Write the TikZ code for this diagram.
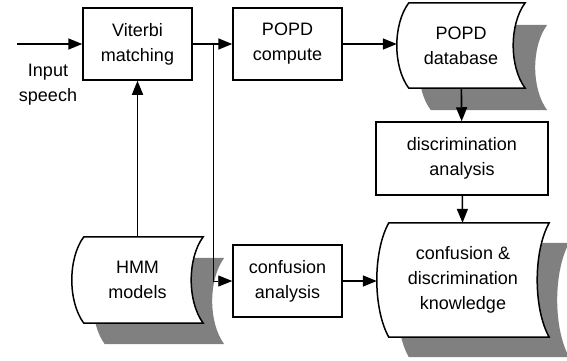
\documentclass[tikz,border=0pt]{standalone}
\usepackage{fontspec}
\setmainfont{Liberation Sans}
\usetikzlibrary{arrows.meta,calc,backgrounds}

\newcommand{\storepath}[2]{
  let \p1=(#1.north west), \p2=(#1.south east), \n1={(\y1-\y2)/4} in
  (\x1+12pt+#2,\y1-#2) -- (\x2+#2,\y1-#2)
  .. controls (\x2-16pt+#2,\y1-\n1-#2) and (\x2-16pt+#2,\y2+\n1-#2) .. (\x2+#2,\y2-#2)
  -- (\x1+12pt+#2,\y2-#2)
  .. controls (\x1-4pt+#2,\y2+\n1-#2) and (\x1-4pt+#2,\y1-\n1-#2) .. (\x1+12pt+#2,\y1-#2) -- cycle}

\begin{document}
\begin{tikzpicture}[x=1pt,y=-1pt,
    font=\fontsize{18}{25}\selectfont,
    box/.style={draw,line width=1.5pt,align=center,inner sep=0pt,
      minimum width=109pt,minimum height=72pt},
    store/.style={align=center,inner sep=0pt},
    shadowfill/.style={fill=black!50},
    outline/.style={draw,fill=white,line width=1.5pt}]
  \useasboundingbox (0,0) rectangle (567,360);
  \node[box] (vit) at (137.5,44) {Viterbi\\matching};
  \node[box] (popd) at (287.5,44) {POPD\\compute};
  \node[box,minimum width=172pt,minimum height=73pt] (disc) at (462,158.5) {discrimination\\analysis};
  \node[box] (conf) at (287.5,281) {confusion\\analysis};
  \node[store,minimum width=128pt,minimum height=85pt] (db) at (461,45.5) {POPD\\database};
  \node[store,minimum width=131pt,minimum height=86pt] (hmm) at (137.5,280) {HMM\\models};
  \node[store,minimum width=172pt,minimum height=114pt] (know) at (463,280) {confusion \&\\discrimination\\knowledge};
  \node[align=center,inner sep=0pt] (speech) at (48,85) {Input\\speech};
  \coordinate (in) at (17,44);
  \coordinate (br) at (213,44);
  \begin{scope}[on background layer]
    \fill[shadowfill] \storepath{db}{22pt};
    \fill[shadowfill] \storepath{hmm}{21pt};
    \fill[shadowfill] \storepath{know}{20pt};
    \path[outline] \storepath{db}{0pt};
    \path[outline] \storepath{hmm}{0pt};
    \path[outline] \storepath{know}{0pt};
  \end{scope}
  \begin{scope}[line width=1.6pt,-{Triangle[length=14pt,width=11pt]}]
    \draw (in) -- (vit);
    \draw (vit) -- (popd);
    \draw (popd.east) -- (popd.east -| db.west);
    \draw (hmm) -- (vit);
    \draw (db) -- (disc);
    \draw (disc) -- (know);
    \draw (conf.east) -- (conf.east -| know.west);
    \draw[line width=0.9pt] (br) |- (conf.west);
  \end{scope}
\end{tikzpicture}
\end{document}
